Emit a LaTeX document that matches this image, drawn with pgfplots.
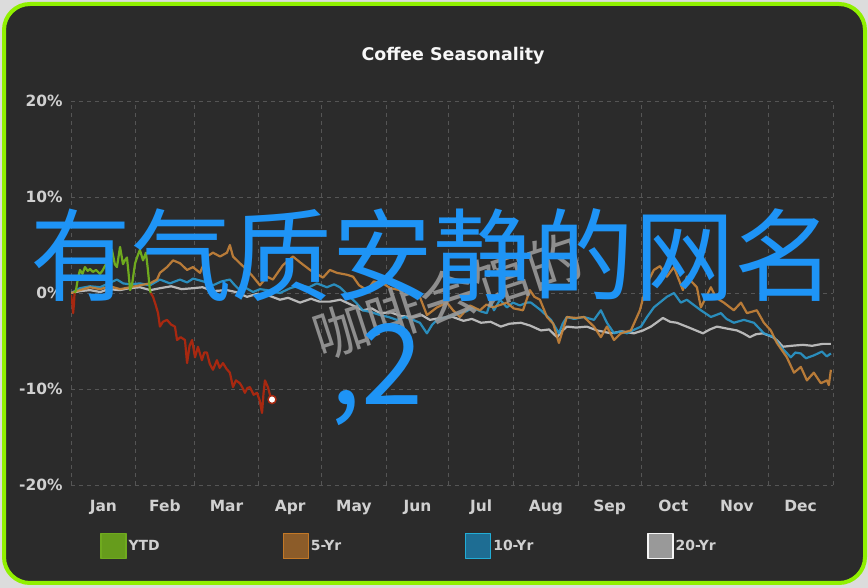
\documentclass[border=0pt]{standalone}
\usepackage{fontspec}
\setmainfont{DejaVu Sans}
\newfontfamily\cjk{Noto Sans CJK SC}
\usepackage{pgfplots}
\pgfplotsset{compat=1.18}

\definecolor{outerbg}{HTML}{DCDCDC}
\definecolor{rim}{HTML}{90F000}
\definecolor{panel}{HTML}{2B2B2B}
\definecolor{gridgray}{HTML}{555555}
\definecolor{ticktext}{HTML}{D0D0D0}
\definecolor{ytdgreen}{HTML}{6FAA1E}
\definecolor{ytdred}{HTML}{A82810}
\definecolor{fiveyr}{HTML}{C8843A}
\definecolor{tenyr}{HTML}{2A98CC}
\definecolor{twentyyr}{HTML}{C8C8C8}
\definecolor{cjkblue}{HTML}{1E94F6}

\begin{document}
\begin{tikzpicture}
\fill[outerbg] (0bp,0bp) rectangle (868bp,588bp);
\path[use as bounding box] (0bp,0bp) rectangle (868bp,588bp);
\draw[rim, line width=4bp, fill=panel, rounded corners=26bp] (4bp,5bp) rectangle (865bp,584bp);

\node[font=\bfseries\fontsize{17.5}{20}\selectfont, text=white!94!gray] at (453bp,532bp) {Coffee Seasonality};

\begin{axis}[
    at={(71bp,103bp)}, anchor=south west,
    scale only axis, width=762bp, height=384bp,
    xmin=0, xmax=365, ymin=-20, ymax=20,
    axis line style={draw=none},
    xtick={15.5,45,74.5,105,135.5,166,196.5,227.5,258,288.5,319,349.5},
    xticklabels={Jan,Feb,Mar,Apr,May,Jun,Jul,Aug,Sep,Oct,Nov,Dec},
    minor xtick={0,31,59,90,120,151,181,212,243,273,304,334,365},
    ytick={-20,-10,0,10,20},
    yticklabels={-20\%,-10\%,0\%,10\%,20\%},
    xminorgrids, ymajorgrids, xmajorgrids=false,
    major grid style={gridgray, line width=0.8bp, dash pattern=on 4bp off 4bp},
    minor grid style={gridgray, line width=0.8bp, dash pattern=on 4bp off 4bp},
    major tick length=0pt, minor tick length=4bp,
    tick align=inside, xtick pos=bottom, ytick pos=left,
    tick style={gridgray, line width=0.8bp},
    tick label style={text=ticktext, font=\bfseries\fontsize{15.5}{18}\selectfont},
    xticklabel style={text height=11.5bp, text depth=3.5bp, yshift=-11bp},
    yticklabel style={xshift=-5bp},
    legend columns=4,
    legend style={at={(0.038,-0.159)}, anchor=west, draw=none, fill=none,
        text=ticktext, font=\bfseries\fontsize{14}{16}\selectfont, inner sep=0pt},
    legend image code/.code={\draw[#1, line width=1.4bp] (0bp,-12.5bp) rectangle (25bp,12.5bp);},
    every axis plot/.append style={line width=2.2bp, line join=round},
]

% 20-Yr
\addplot[twentyyr, opacity=0.9, forget plot] coordinates {
(0,0) (4.5,0.2) (9.1,0.3) (14,0.1) (18,0.4) (23.5,0.3) (28,0.5) (33,0.6) (38,0.3) (42.6,0.5)
(48,0.7) (53,0.4) (58.4,0.5) (63,0.6) (68,0.2) (74.7,0.3) (79,0.1) (84.3,-0.4) (89,-0.1)
(93.9,-0.2) (100.1,-0.7) (104,-0.5) (109.7,-1.0) (115,-0.6) (119,-0.9) (124,-0.9) (129,-0.7)
(134,-1.2) (139.8,-1.8) (144,-1.6) (148,-2.1) (153,-2.0) (158,-2.4) (163.8,-2.5) (168,-2.3)
(171.9,-2.8) (177,-2.6) (182.9,-2.5) (188,-2.9) (192,-2.7) (196.4,-3.1) (201,-3.0) (205.9,-3.5)
(210,-3.2) (215.5,-3.1) (220,-3.4) (225.1,-3.9) (229,-3.8) (232.8,-4.6) (235,-4.0) (237.5,-3.5)
(242,-3.6) (247.1,-3.5) (252,-3.9) (258.6,-4.2) (264,-4.0) (269.6,-4.2) (274,-3.9) (277.8,-3.5)
(281,-3.0) (283.5,-2.6) (287,-3.0) (290.2,-3.1) (296,-3.6) (302.7,-4.2) (306,-3.8) (309.4,-3.5)
(314,-3.7) (319,-3.9) (322,-4.2) (325.2,-4.6) (328,-4.3) (331.4,-4.2) (336.2,-4.6) (338.5,-5.0)
(341,-5.6) (345,-5.5) (350.6,-5.4) (355,-5.5) (360,-5.3) (364,-5.3)
};

% 10-Yr
\addplot[tenyr, opacity=0.9, forget plot] coordinates {
(0,0) (4.3,0.5) (9.1,0.7) (13.9,0.6) (18,1.0) (22,1.4) (25,1.0) (28.3,0.9) (33,1.0) (37.8,0.8)
(42.6,1.4) (47.4,1.0) (52.2,1.4) (55.6,1.1) (58.5,1.5) (61.8,1.3) (65,1.1) (68,0.8) (72,1.2)
(76.1,1.4) (78.5,0.8) (80.9,0.3) (84,0.5) (87.2,0.1) (90.5,0.4) (93.9,0.3) (97,0.1) (100.1,0)
(105,0.5) (109.7,0.8) (114,0.6) (117.8,1.0) (122.6,0.6) (126,0.9) (128.8,0.6) (133.6,-0.4)
(136.5,-1.0) (139.8,-1.8) (144,-2.0) (148,-2.3) (152,-2.5) (156.1,-2.8) (160,-2.5) (163.8,-2.8)
(167.1,-3.1) (170.5,-4.2) (173,-3.3) (175.3,-2.8) (180.1,-2.5) (183.5,-2.3) (186.8,-2.1)
(189.5,-1.9) (192.5,-1.5) (196,-1.9) (199.2,-2.1) (201,-0.9) (202.6,-1.8) (205.5,-0.7)
(208.8,-1.5) (211.7,-1.0) (215,-1.3) (218.4,-1.0) (220.3,-1.0) (225.1,-1.8) (229.9,-2.8)
(233.7,-4.2) (235.5,-3.2) (237.5,-2.5) (241,-2.7) (245.7,-2.5) (250.5,-2.8) (253.8,-1.8)
(256.7,-3.1) (260.1,-4.2) (263,-4.0) (266.3,-4.2) (270,-3.8) (273,-3.5) (275.9,-2.5) (279.2,-1.5)
(282,-1.0) (285.4,-0.4) (288.8,0) (292.1,-1.0) (295,-0.7) (298,-1.2) (301.7,-1.8) (306.5,-2.5)
(311.3,-2.1) (314,-2.7) (317.5,-3.1) (322.3,-2.8) (327.1,-3.1) (331.9,-4.2) (336.7,-4.6)
(340,-5.6) (344.8,-6.7) (347,-6.2) (349.6,-6.3) (352,-6.8) (355.8,-6.5) (359.7,-6.1) (362,-6.6)
(364,-6.3)
};

% 5-Yr
\addplot[fiveyr, opacity=0.9, forget plot] coordinates {
(0,0) (4.3,0.3) (9.1,0.6) (13.9,0.4) (18.7,0.7) (23.5,0.4) (28.3,0.6) (33,0.8) (37.8,1.0)
(41.2,1.4) (42.6,2.1) (46,2.7) (48.9,3.4) (52.2,3.1) (55.6,2.4) (58.4,2.7) (61.8,2.1) (65.1,3.8)
(68,4.2) (71.4,3.8) (74.7,4.2) (76.1,5.0) (77.6,3.8) (80.9,3.1) (84.3,2.4) (87.2,1.7) (90.5,0.8)
(93.9,1.7) (96.7,1.4) (101.5,2.9) (106.3,3.8) (109.7,3.2) (114.5,2.4) (120.7,1.6) (124,2.4)
(127.4,2.1) (132.2,1.9) (135.1,1.7) (138,0.8) (141.8,0.3) (145,1.2) (149.4,1.0) (153,0.5)
(157.6,0.3) (162,0.2) (167.1,-0.4) (170.5,-2.3) (175.3,-1.5) (180.1,-1.0) (183,-1.8) (186.3,-2.5)
(191.1,-1.3) (195.9,-1.8) (199,-1.2) (202.1,-1.5) (208.8,-1.0) (212,-1.6) (216.5,-1.8)
(219.8,0.3) (222,-0.4) (224.6,-0.7) (228,-2.5) (231,-3.2) (233.7,-5.2) (237.5,-2.5) (241.9,-2.6)
(245.7,-2.5) (250.5,-3.5) (253.8,-4.6) (256.7,-3.5) (260.1,-4.9) (263.4,-4.2) (268.2,-3.9)
(272.5,-1.8) (275.9,1.0) (279.2,2.4) (282.1,2.8) (285.4,1.7) (288.8,2.7) (293.1,0.3) (295,1.7)
(299.8,0.6) (301.7,-1.5) (306.5,0.6) (309,-0.5) (312.7,-1.0) (317.5,-1.8) (320.9,-1.0)
(323.8,-2.1) (328.5,-1.8) (331.9,-3.1) (335.2,-3.9) (338.1,-5.2) (342.9,-6.7) (346.3,-8.3)
(349.6,-7.7) (352.5,-9.1) (355.8,-8.3) (359.2,-9.4) (362.1,-9.1) (363,-9.6) (364,-8.0)
};

% YTD, green where above zero, red where below
\addplot[ytdred, forget plot] coordinates {
(0,-0.2) (0.6,-1.0) (1,-2.1) (1.4,-1.2) (1.7,0)
};
\addplot[ytdgreen, forget plot] coordinates {
(1.7,0) (2.4,0.3) (3.3,1.5) (4.3,2.4) (5.5,2.0) (6.7,2.7) (8,2.3) (9.1,2.5) (10.5,2.2) (12,2.4)
(13.9,2.0) (15,2.3) (16.5,2.9) (18,3.5) (19.6,4.5) (21,3.0) (22,2.7) (23.5,4.8) (24.9,3.0)
(25.8,3.4) (26.8,3.7) (27.6,2.0) (28.3,0.3) (29.2,0.8) (30.7,3.1) (31.8,3.8) (33,4.5) (34.5,3.4)
(35.9,4.2) (36.8,2.5) (37.8,0.3) (38.2,0)
};
\addplot[ytdred, forget plot] coordinates {
(38.2,0) (39.3,-0.4) (40.5,-1.2) (41.7,-2.1) (42.6,-3.5) (44,-3.0) (46,-2.8) (48,-3.3) (49.8,-3.5)
(50.8,-4.9) (52.5,-4.6) (54.6,-4.9) (55.6,-7.3) (56.8,-5.5) (58,-4.9) (59.4,-6.7) (60.8,-5.6)
(62.7,-7.0) (63.8,-6.2) (65.1,-6.2) (66.5,-7.4) (68,-8.0) (69.9,-7.0) (71.2,-7.8) (72.8,-7.3)
(74.5,-7.9) (76.1,-8.3) (77.6,-9.8) (79,-9.1) (80.9,-9.4) (82,-9.8) (83.3,-10.4) (84.5,-9.9)
(85.7,-9.8) (87.5,-10.6) (89.1,-10.4) (90.4,-11.2) (91.5,-12.5) (92.2,-10.5) (92.9,-9.1)
(94.3,-9.8) (95.3,-10.6) (96.3,-11.1)
};
\addplot[only marks, mark=*, mark size=4bp, mark options={fill=white, draw=ytdred, line width=1.5bp}, forget plot]
    coordinates {(96.3,-11.1)};

\addlegendimage{draw=ytdgreen, fill=ytdgreen!92!black}
\addlegendentry{\makebox[152bp][l]{YTD}}
\addlegendimage{draw=fiveyr!110, fill=fiveyr!70!black}
\addlegendentry{\makebox[152bp][l]{5-Yr}}
\addlegendimage{draw=tenyr!80!cyan, fill=tenyr!72!black}
\addlegendentry{\makebox[152bp][l]{10-Yr}}
\addlegendimage{draw=white!92!gray, fill=white!60!black}
\addlegendentry{\makebox[152bp][l]{20-Yr}}
\end{axis}

\node[rotate=18, font=\cjk\fontsize{56}{56}\selectfont, text=gray!80!white, opacity=0.9]
    at (448bp,292bp) {咖啡会馆的};
\node[font=\cjk\fontsize{101}{101}\selectfont, text=cjkblue] at (433bp,333bp) {有气质安静的网名};
\node[anchor=base west, font=\cjk\fontsize{112}{112}\selectfont, text=cjkblue, inner sep=0pt]
    at (330bp,183bp) {,2};
\end{tikzpicture}
\end{document}
